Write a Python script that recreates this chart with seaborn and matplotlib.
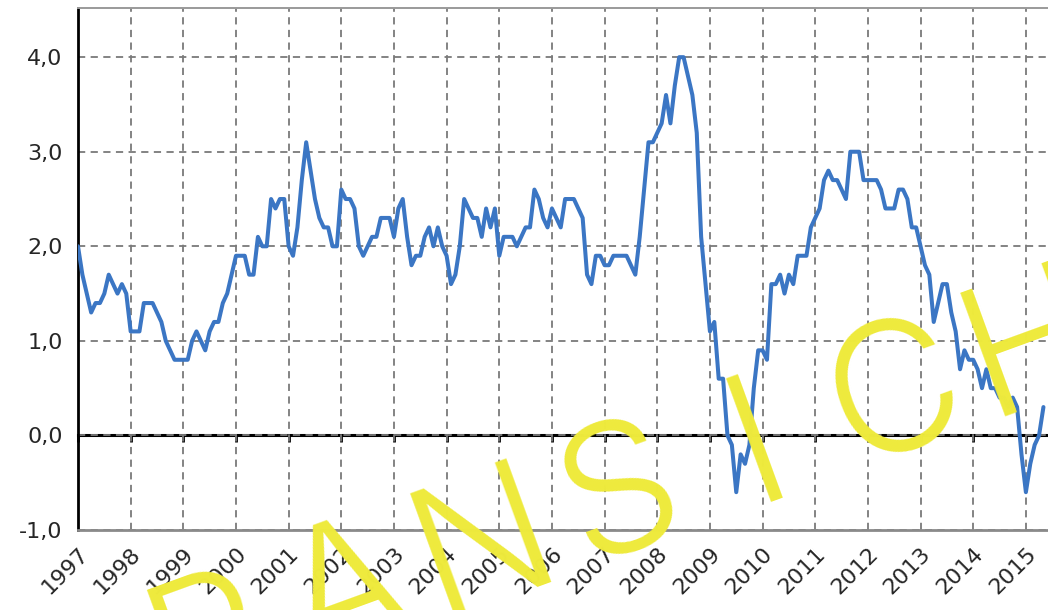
import numpy as np
import pandas as pd
import matplotlib
matplotlib.use("Agg")
import matplotlib.pyplot as plt
from matplotlib import font_manager
from matplotlib.ticker import MultipleLocator, FuncFormatter, FormatStrFormatter
import seaborn as sns

# Monthly year-on-year rates (%), Jan 1997 .. May 2015
RATE_1997 = [2.0, 1.7, 1.5, 1.3, 1.4, 1.4, 1.5, 1.7, 1.6, 1.5, 1.6, 1.5]
RATE_1998 = [1.1, 1.1, 1.1, 1.4, 1.4, 1.4, 1.3, 1.2, 1.0, 0.9, 0.8, 0.8]
RATE_1999 = [0.8, 0.8, 1.0, 1.1, 1.0, 0.9, 1.1, 1.2, 1.2, 1.4, 1.5, 1.7]
RATE_2000 = [1.9, 1.9, 1.9, 1.7, 1.7, 2.1, 2.0, 2.0, 2.5, 2.4, 2.5, 2.5]
RATE_2001 = [2.0, 1.9, 2.2, 2.7, 3.1, 2.8, 2.5, 2.3, 2.2, 2.2, 2.0, 2.0]
RATE_2002 = [2.6, 2.5, 2.5, 2.4, 2.0, 1.9, 2.0, 2.1, 2.1, 2.3, 2.3, 2.3]
RATE_2003 = [2.1, 2.4, 2.5, 2.1, 1.8, 1.9, 1.9, 2.1, 2.2, 2.0, 2.2, 2.0]
RATE_2004 = [1.9, 1.6, 1.7, 2.0, 2.5, 2.4, 2.3, 2.3, 2.1, 2.4, 2.2, 2.4]
RATE_2005 = [1.9, 2.1, 2.1, 2.1, 2.0, 2.1, 2.2, 2.2, 2.6, 2.5, 2.3, 2.2]
RATE_2006 = [2.4, 2.3, 2.2, 2.5, 2.5, 2.5, 2.4, 2.3, 1.7, 1.6, 1.9, 1.9]
RATE_2007 = [1.8, 1.8, 1.9, 1.9, 1.9, 1.9, 1.8, 1.7, 2.1, 2.6, 3.1, 3.1]
RATE_2008 = [3.2, 3.3, 3.6, 3.3, 3.7, 4.0, 4.0, 3.8, 3.6, 3.2, 2.1, 1.6]
RATE_2009 = [1.1, 1.2, 0.6, 0.6, 0.0, -0.1, -0.6, -0.2, -0.3, -0.1, 0.5, 0.9]
RATE_2010 = [0.9, 0.8, 1.6, 1.6, 1.7, 1.5, 1.7, 1.6, 1.9, 1.9, 1.9, 2.2]
RATE_2011 = [2.3, 2.4, 2.7, 2.8, 2.7, 2.7, 2.6, 2.5, 3.0, 3.0, 3.0, 2.7]
RATE_2012 = [2.7, 2.7, 2.7, 2.6, 2.4, 2.4, 2.4, 2.6, 2.6, 2.5, 2.2, 2.2]
RATE_2013 = [2.0, 1.8, 1.7, 1.2, 1.4, 1.6, 1.6, 1.3, 1.1, 0.7, 0.9, 0.8]
RATE_2014 = [0.8, 0.7, 0.5, 0.7, 0.5, 0.5, 0.4, 0.4, 0.3, 0.4, 0.3, -0.2]
RATE_2015 = [-0.6, -0.3, -0.1, 0.0, 0.3]

YEAR_TICKS = list(range(1997, 2016))
WATERMARK = "VORANSICHT"

LINE_COLOR = "#3b76c4"
GRID_COLOR = "#7a7a7a"
MARK_COLOR = "#eeea3c"

rates = (RATE_1997 + RATE_1998 + RATE_1999 + RATE_2000 + RATE_2001 + RATE_2002
         + RATE_2003 + RATE_2004 + RATE_2005 + RATE_2006 + RATE_2007 + RATE_2008
         + RATE_2009 + RATE_2010 + RATE_2011 + RATE_2012 + RATE_2013 + RATE_2014
         + RATE_2015)
df = pd.DataFrame({"t": 1997 + np.arange(len(rates)) / 12.0, "rate": rates})


def thin_font():
    # the watermark is drawn in thin strokes: take the lightest installed face
    best = None
    for f in font_manager.fontManager.ttflist:
        if f.name in ("Roboto", "Lato", "Open Sans", "Noto Sans", "Inter", "DejaVu Sans"):
            w = f.weight if isinstance(f.weight, int) else 400
            if f.style == "normal" and 200 <= w <= 300 and (best is None or w > best[0]):
                best = (w, f.fname)
    if best is None:
        return font_manager.FontProperties(family="DejaVu Serif", size=123)
    return font_manager.FontProperties(fname=best[1], size=130)


sns.set_style("white")
plt.rcParams["font.family"] = ["DejaVu Sans"]

fig = plt.figure(figsize=(10.48, 6.10), dpi=100)
ax = fig.add_axes([78 / 1048, 80 / 610, 970 / 1048, 522 / 610])

YLO, YHI = -1.0, 4.52
ax.set_xlim(1997, 2015.42)
ax.set_ylim(YLO, YHI)

ax.grid(True, color=GRID_COLOR, linestyle=(0, (4, 3)), linewidth=1.3, zorder=0)
ax.set_axisbelow(True)

sns.lineplot(data=df, x="t", y="rate", color=LINE_COLOR, linewidth=2.9, ax=ax, zorder=4)

ax.set_xticks(YEAR_TICKS)
ax.xaxis.set_major_formatter(FormatStrFormatter("%d"))
ax.yaxis.set_major_locator(MultipleLocator(1))
ax.yaxis.set_major_formatter(FuncFormatter(lambda v, p: f"{v:.1f}".replace(".", ",")))
ax.set_xlabel("")
ax.set_ylabel("")

ax.tick_params(axis="y", length=6, width=2, color="black", direction="out",
               labelsize=16, pad=5)
ax.tick_params(axis="x", length=0, labelsize=16, pad=10)
for lab in ax.get_xticklabels():
    lab.set_rotation(45)
    lab.set_ha("right")
    lab.set_rotation_mode("anchor")

ax.spines["left"].set_color("black")
ax.spines["left"].set_linewidth(2)
ax.spines["top"].set_color("#9a9a9a")
ax.spines["top"].set_linewidth(1.4)
ax.spines["bottom"].set_color("#8a8a8a")
ax.spines["bottom"].set_linewidth(2)
ax.spines["right"].set_visible(False)

# zero line with small year ticks
zero = ax.secondary_xaxis((0 - YLO) / (YHI - YLO))
zero.set_xticks(YEAR_TICKS)
zero.tick_params(axis="x", length=5, width=2, color="black", direction="out",
                 labelbottom=False)
zero.spines["bottom"].set_color("black")
zero.spines["bottom"].set_linewidth(2.2)

# watermark, one letter at a time for the wide spacing
mark_font = thin_font()
c_x, c_y = 0.856, 0.345
step_x, step_y = 0.1307, 0.0820
for i, ch in enumerate(WATERMARK):
    fig.text(c_x + (i - 7) * step_x, c_y + (i - 7) * step_y, ch,
             rotation=20, rotation_mode="anchor", ha="center", va="center",
             fontproperties=mark_font, color=MARK_COLOR, zorder=10)

fig.savefig("out.png", dpi=100)
